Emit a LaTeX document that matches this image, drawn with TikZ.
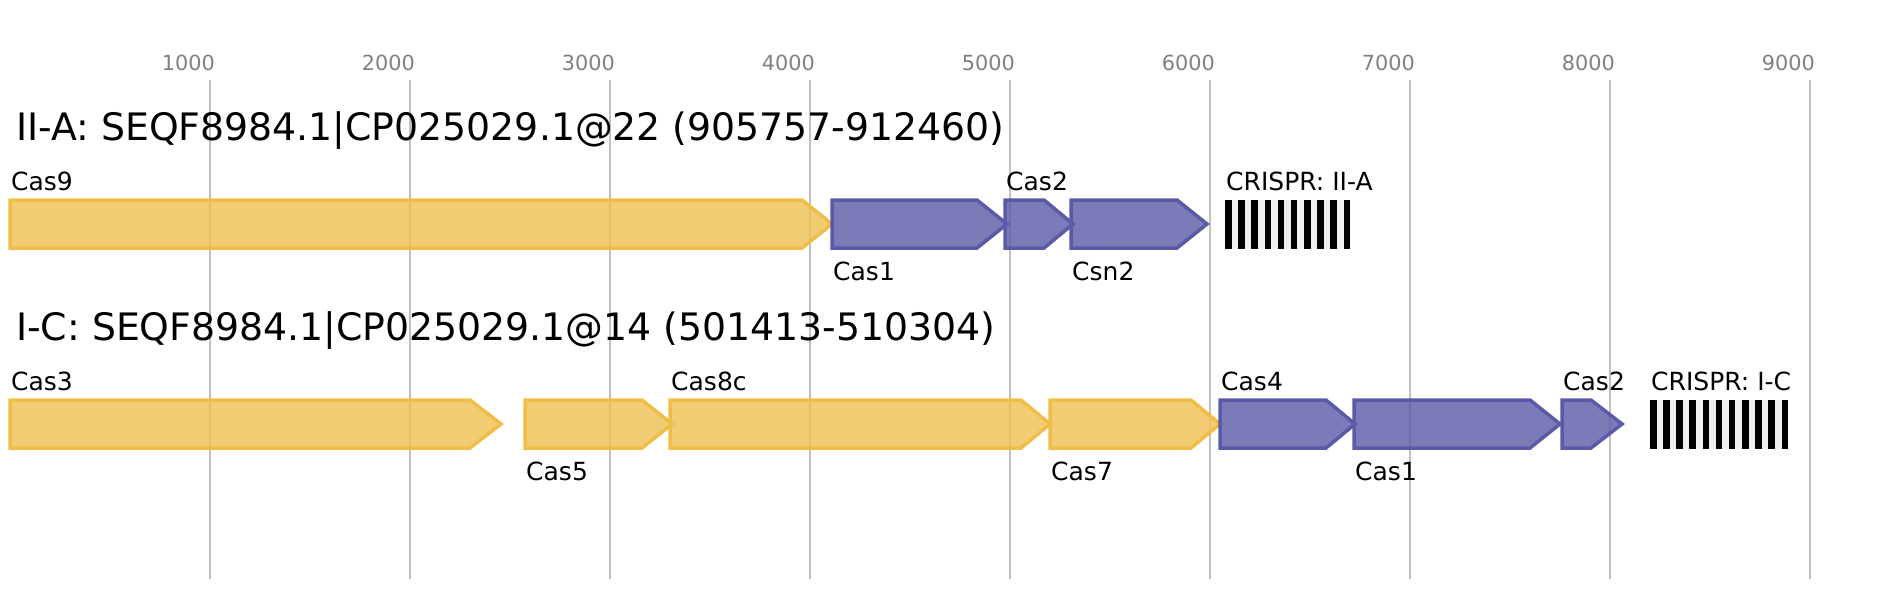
\documentclass[tikz,border=0pt]{standalone}
\usepackage{fontspec}
\setmainfont{DejaVu Sans}
\usepackage{xcolor}
\usepackage{tikz}
\usetikzlibrary{calc}

\definecolor{interfline}{RGB}{240,190,70}
\definecolor{interffill}{RGB}{239,191,80}
\definecolor{adaptline}{RGB}{90,90,168}
\definecolor{adaptfill}{RGB}{90,90,165}
\definecolor{gridgray}{RGB}{192,192,192}
\definecolor{ticktext}{RGB}{128,128,128}
\definecolor{arraygray}{RGB}{240,240,240}

\tikzset{
	tickline/.style={draw=gridgray,line width=2pt},
	ticklab/.style={anchor=base east,inner sep=0pt,text=ticktext,font=\fontsize{20.8}{24}\selectfont},
	locustitle/.style={anchor=base west,inner sep=0pt,font=\fontsize{37.8}{44}\selectfont},
	genelab/.style={anchor=base west,inner sep=0pt,font=\fontsize{25}{30}\selectfont},
	interf/.style={draw=interfline,fill=interffill,fill opacity=0.8,line width=3.5pt},
	adapt/.style={draw=adaptline,fill=adaptfill,fill opacity=0.8,line width=3.5pt},
	arraybg/.style={fill=arraygray},
	spacerbar/.style={fill=black},
}

\begin{document}
\begin{tikzpicture}[x=1pt,y=-1pt]
				\useasboundingbox (0,0) rectangle (1878,600);
				% scale
				\draw[tickline] (210,80) to (210,579);
				\draw[tickline] (410,80) to (410,579);
				\draw[tickline] (610,80) to (610,579);
				\draw[tickline] (810,80) to (810,579);
				\draw[tickline] (1010,80) to (1010,579);
				\draw[tickline] (1210,80) to (1210,579);
				\draw[tickline] (1410,80) to (1410,579);
				\draw[tickline] (1610,80) to (1610,579);
				\draw[tickline] (1810,80) to (1810,579);
				\node[ticklab] (tk1) at (215,70) {1000};
				\node[ticklab] (tk2) at (415,70) {2000};
				\node[ticklab] (tk3) at (615,70) {3000};
				\node[ticklab] (tk4) at (815,70) {4000};
				\node[ticklab] (tk5) at (1015,70) {5000};
				\node[ticklab] (tk6) at (1215,70) {6000};
				\node[ticklab] (tk7) at (1415,70) {7000};
				\node[ticklab] (tk8) at (1615,70) {8000};
				\node[ticklab] (tk9) at (1815,70) {9000};
				% II-A locus
				\node[locustitle] (titleIIA) at (16,140) {II-A: SEQF8984.1|CP025029.1@22 (905757-912460)};
				\draw[interf] (10,200) -- (802,200) -- (832,224) -- (802,248) -- (10,248) -- cycle;
				\draw[adapt] (832,200) -- (977,200) -- (1007,224) -- (977,248) -- (832,248) -- cycle;
				\draw[adapt] (1005,200) -- (1044,200) -- (1073,224) -- (1044,248) -- (1005,248) -- cycle;
				\draw[adapt] (1071,200) -- (1177,200) -- (1207,224) -- (1177,248) -- (1071,248) -- cycle;
				\fill[arraybg] (1225,200) rectangle (1350,249);
				\foreach \i in {0,...,9}
					\fill[spacerbar] ({1225+13.17*\i},200) rectangle ++(6.5,49);
				\node[genelab] (cas9) at (11,190) {Cas9};
				\node[genelab] (cas1a) at (833,280) {Cas1};
				\node[genelab] (cas2a) at (1006,190) {Cas2};
				\node[genelab] (csn2) at (1072,280) {Csn2};
				\node[genelab] (crIIA) at (1226,190) {CRISPR: II-A};
				% I-C locus
				\node[locustitle] (titleIC) at (16,340) {I-C: SEQF8984.1|CP025029.1@14 (501413-510304)};
				\draw[interf] (10,400) -- (470,400) -- (501,424) -- (470,448) -- (10,448) -- cycle;
				\draw[interf] (525,400) -- (642,400) -- (672,424) -- (642,448) -- (525,448) -- cycle;
				\draw[interf] (670,400) -- (1021,400) -- (1050,424) -- (1021,448) -- (670,448) -- cycle;
				\draw[interf] (1050,400) -- (1191,400) -- (1220,424) -- (1191,448) -- (1050,448) -- cycle;
				\draw[adapt] (1220,400) -- (1326,400) -- (1355,424) -- (1326,448) -- (1220,448) -- cycle;
				\draw[adapt] (1354,400) -- (1530,400) -- (1560,424) -- (1530,448) -- (1354,448) -- cycle;
				\draw[adapt] (1562,400) -- (1591,400) -- (1622,424) -- (1591,448) -- (1562,448) -- cycle;
				\fill[arraybg] (1650,400) rectangle (1788,449);
				\foreach \i in {0,...,10}
					\fill[spacerbar] ({1650+13.15*\i},400) rectangle ++(6.5,49);
				\node[genelab] (cas3) at (11,390) {Cas3};
				\node[genelab] (cas5) at (526,480) {Cas5};
				\node[genelab] (cas8c) at (671,390) {Cas8c};
				\node[genelab] (cas7) at (1051,480) {Cas7};
				\node[genelab] (cas4) at (1221,390) {Cas4};
				\node[genelab] (cas1c) at (1355,480) {Cas1};
				\node[genelab] (cas2c) at (1563,390) {Cas2};
				\node[genelab] (crIC) at (1651,390) {CRISPR: I-C};
	\end{tikzpicture}
\end{document}
